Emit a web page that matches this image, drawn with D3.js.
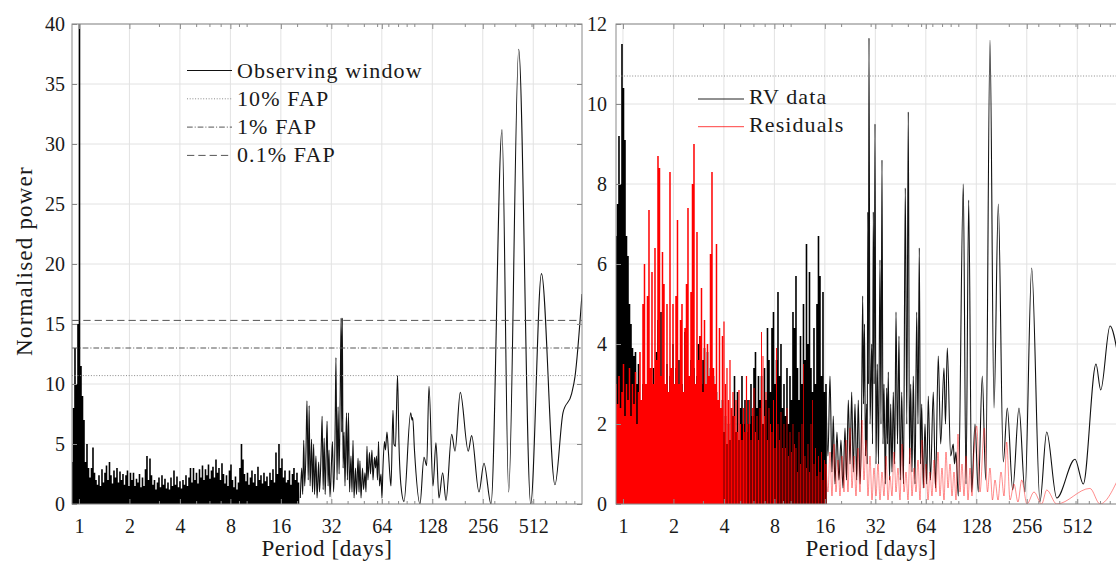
<!DOCTYPE html>
<html>
<head>
<meta charset="utf-8">
<script src="https://cdn.jsdelivr.net/npm/d3@7"></script>
<style>
  body { margin: 0; background: #fff; }
</style>
</head>
<body>
<svg id="chart" width="1116" height="564"></svg>
<script>
// ---- axes ----
const periodDomain = [1 / 1.1, 1000];
const periodTicks = [1, 2, 4, 8, 16, 32, 64, 128, 256, 512];
const periodMinorTicks = [3, 5, 6, 7, 9, 10, 20, 30, 40, 50, 60, 70, 80, 90, 100, 200, 300, 400, 500, 600, 700, 800, 900];
const windowPowerTicks = [0, 5, 10, 15, 20, 25, 30, 35, 40];
const rvPowerTicks = [0, 2, 4, 6, 8, 10, 12];

// ---- false-alarm levels ----
const fapLabels = ["10% FAP", "1% FAP", "0.1% FAP"];
const windowFapLevels = [10.7, 13.0, 15.3];
const rvFapLevel = 10.7;

// ---- observing window periodogram ----
// short periods: powers sampled on a log-uniform period grid
const windowDenseRange = [0.909, 20.38];
const windowDensePower = [
  3.5, 8, 13, 10, 15, 45, 11.5, 9,
  7, 3.5, 5.0, 3.0, 2.2, 3.0, 4.7, 2.6,
  2.0, 1.6, 2.4, 1.5, 2.9, 1.8, 2.6, 3.2,
  2.0, 3.5, 2.4, 1.7, 2.8, 2.2, 3.0, 1.8,
  2.7, 2.0, 2.5, 1.6, 2.4, 2.8, 1.5, 2.6,
  2.0, 2.6, 1.5, 2.1, 1.8, 2.5, 1.4, 2.2,
  1.5, 2.9, 4.0, 2.0, 3.8, 2.4, 1.6, 2.0,
  1.2, 1.8, 2.2, 1.4, 2.4, 1.6, 2.1, 1.3,
  1.8, 1.2, 2.2, 1.5, 2.8, 1.6, 2.3, 1.4,
  1.9, 1.3, 2.0, 1.6, 2.4, 1.5, 2.2, 3.0,
  1.8, 3.0, 2.0, 2.6, 1.7, 2.9, 2.2, 3.2,
  2.0, 2.9, 2.4, 3.3, 2.1, 2.8, 3.1, 2.2,
  3.7, 2.6, 3.0, 2.0, 3.4, 2.5, 1.7, 2.4,
  1.5, 2.8, 3.3, 2.0, 1.4, 2.3, 1.2, 1.8,
  3.0, 5.0, 3.7, 2.5, 1.9, 2.6, 1.6, 2.2,
  2.8, 1.8, 2.5, 1.5, 3.1, 2.0, 2.4, 1.7,
  2.6, 1.9, 2.3, 1.5, 2.6, 2.0, 2.9, 1.8,
  4.3, 2.5, 5.0, 3.0, 3.8, 2.2, 2.8, 1.8,
  2.0, 2.8, 1.6, 2.5, 3.0, 2.0, 2.6, 1.8
];
// longer periods: [period (days), power]
const windowCurve = [
  [20.9,0.5],[21.3,3.0],[21.6,0.8],[21.9,5.3],[22.2,1.5],[22.6,4.5],[22.9,8.6],[23.3,2.0],[23.6,8.2],[23.9,1.5],
  [24.4,5.4],[24.7,1.0],[25.1,5.0],[25.4,0.8],[25.9,4.0],[26.3,0.5],[26.9,3.5],[27.2,1.0],[27.8,4.2],[28.2,7.3],
  [28.6,1.2],[29.0,5.5],[29.4,0.8],[29.8,4.0],[30.2,6.9],[30.6,1.5],[31.0,4.5],[31.4,0.6],[32.1,3.6],[32.5,5.2],
  [33.0,1.0],[33.7,6.0],[34.1,12.2],[34.6,2.0],[35.1,8.1],[35.6,2.5],[36.1,8.5],[36.6,15.5],[36.9,6.0],[37.2,15.5],
  [37.6,3.0],[38.1,6.0],[38.6,1.5],[39.4,7.6],[39.9,2.0],[40.5,7.6],[41.1,1.0],[41.9,4.0],[42.5,1.0],[43.1,5.3],
  [43.7,0.5],[44.6,3.0],[45.2,0.8],[46.2,3.8],[46.8,1.0],[47.4,3.6],[48.1,0.5],[49.1,3.0],[49.8,1.2],[50.8,2.6],
  [51.5,1.0],[52.2,4.8],[52.9,2.0],[54.0,4.3],[54.8,2.5],[55.9,4.5],[56.7,2.0],[57.9,3.9],[58.7,3.0],[59.5,4.0],
  [60.3,2.0],[61.2,5.2],[62.0,1.5],[63.3,2.5],[64.1,0.5],[65.0,3.0],[66.4,5.2],[67.3,4.5],[68.7,6.0],[70.1,4.3],
  [71.6,2.3],[72.6,1.5],[74.6,7.8],[75.6,5.0],[77.2,4.8],[79.4,10.7],[81.0,5.0],[83.3,1.5],[86.8,0.2],[95.1,7.6],
  [96.9,7.0],[97.8,7.2],[100.2,4.5],[108.1,0.0],[114.2,3.9],[118.5,3.2],[122.3,9.8],[129.2,1.5],[134.6,5.1],[140.3,0.5],
  [147.6,2.6],[154.5,0.3],[167.1,5.8],[174.8,4.4],[188.0,9.3],[209.7,4.4],[219.7,5.7],[243.0,1.0],[260.2,3.4],[286.6,0.0],
  [333.3,31.2],[365.4,1.0],[419.3,37.9],[494.4,0.0],[573.1,19.2],[690.0,1.6],[770.0,7.6],[867.6,9.2],[907.9,10.6],[1000,17.5]
];

// ---- RV data periodogram ----
const rvDenseRange = [0.909, 16.25];
const rvDensePower = [
  6.7, 7.5, 9.2, 8.0, 11.5, 10.4, 9.1, 6.7,
  6.2, 5.0, 4.5, 3.9, 3.7, 3.8, 3.0, 3.5,
  2.5, 2.2, 3.0, 2.0, 2.8, 1.6, 3.0, 2.2,
  2.6, 3.4, 2.0, 3.8, 4.6, 2.5, 4.8, 2.4,
  3.0, 2.2, 3.5, 2.0, 3.2, 2.6, 4.0, 2.4,
  3.4, 2.0, 3.6, 2.4, 3.0, 2.8, 4.3, 2.6,
  3.0, 2.2, 3.6, 2.0, 3.4, 2.6, 3.2, 4.0,
  4.2, 3.0, 3.6, 3.9, 2.4, 3.8, 2.8, 3.4,
  2.6, 3.2, 2.0, 2.8, 1.8, 2.4, 1.5, 2.6,
  1.8, 2.2, 1.5, 2.0, 1.6, 2.4, 2.2, 3.2,
  1.8, 2.8, 1.6, 2.4, 3.2, 2.0, 2.6, 1.8,
  2.6, 2.0, 3.0, 2.2, 3.4, 3.8, 2.4, 3.2,
  2.6, 3.2, 2.0, 3.4, 2.6, 4.4, 3.6, 2.8,
  4.4, 4.8, 3.0, 3.6, 5.3, 3.2, 4.0, 2.4,
  3.0, 2.2, 3.4, 2.0, 3.2, 2.6, 4.8, 4.4,
  5.7, 3.4, 2.6, 4.2, 3.0, 5.0, 3.6, 6.5,
  4.0, 5.8, 3.4, 2.8, 4.4, 3.0, 5.0, 6.7,
  5.7, 3.2, 5.3, 2.8, 3.0
];
const rvCurve = [
  [16.25,2.8],[16.70,1.2],[17.17,3.2],[17.64,0.8],[17.96,2.2],[18.38,0.5],[18.89,1.8],[19.42,0.6],[19.96,1.6],[20.52,0.4],
  [21.10,1.9],[21.54,0.6],[22.08,2.6],[22.60,1.0],[23.13,2.8],[23.64,0.8],[24.20,2.5],[24.77,0.6],[25.32,2.6],[25.92,0.5],
  [26.46,2.0],[26.90,5.2],[27.20,2.5],[27.57,4.5],[27.95,1.2],[28.42,2.5],[28.62,1.0],[28.85,7.3],[29.09,3.0],[29.33,11.65],
  [29.74,2.0],[30.44,4.0],[30.78,1.5],[31.12,7.3],[31.50,3.0],[31.85,9.5],[32.29,1.0],[32.87,3.5],[33.42,1.0],[34.11,6.1],
  [34.58,2.0],[35.06,8.6],[35.55,1.5],[36.04,3.0],[36.69,0.5],[37.40,2.9],[37.81,1.5],[38.23,3.3],[38.87,0.6],[39.51,2.5],
  [40.22,0.8],[40.95,2.8],[41.75,1.0],[42.50,4.8],[43.38,1.5],[44.28,4.2],[45.08,0.6],[45.96,2.8],[47.10,0.5],[48.28,7.9],
  [49.29,2.0],[50.31,9.8],[51.15,1.0],[52.00,3.0],[52.94,0.8],[53.89,3.2],[55.17,0.5],[56.47,4.8],[57.49,2.0],[58.52,6.4],
  [59.49,1.0],[60.48,2.5],[61.83,0.4],[63.29,2.0],[64.78,0.5],[66.21,2.7],[68.24,0.6],[70.91,2.8],[73.08,0.4],[75.94,3.7],
  [78.49,1.5],[82.14,3.4],[83.85,2.0],[85.95,3.9],[90.05,1.2],[93.32,1.5],[94.87,1.0],[96.85,1.3],[99.96,0.2],[107.08,8.0],
  [111.12,0.5],[115.32,7.6],[120.16,0.3],[125.75,2.0],[131.56,0.3],[138.98,3.2],[145.63,0.6],[154.53,11.6],[163.24,2.4],[173.18,7.5],
  [185.45,1.05],[195.92,2.4],[211.02,0.35],[230.08,2.4],[249.82,0.3],[273.87,5.9],[306.87,0.06],[336.56,1.8],[386.15,0.15],[496.46,1.12],
  [556.3,0.5],[662.4,3.5],[706.6,2.85],[802.8,4.45],[896.1,3.7]
];

// ---- residuals periodogram ----
const residDensePower = [
  3.0, 2.5, 3.2, 2.4, 2.8, 3.5, 2.2, 3.0,
  2.6, 3.4, 2.2, 3.0, 2.5, 3.3, 2.0, 2.8,
  3.8, 2.6, 5.0, 6.0, 3.0, 5.2, 7.35, 3.4,
  5.8, 3.0, 6.4, 3.6, 8.7, 8.4, 3.2, 6.3,
  5.5, 3.0, 5.0, 2.8, 8.3, 3.4, 5.0, 3.0,
  5.2, 7.1, 3.0, 4.6, 5.0, 2.8, 4.4, 5.5,
  7.4, 3.2, 5.3, 8.0, 9.0, 3.0, 6.8, 3.6,
  4.2, 5.4, 2.8, 4.6, 3.0, 4.0, 3.2, 6.25,
  8.3, 3.4, 3.0, 6.5, 2.6, 4.4, 2.4, 4.2,
  4.56, 3.0, 3.4, 2.6, 3.6, 2.4, 2.8, 2.2,
  2.6, 1.8, 2.85, 2.0, 1.6, 2.4, 1.8, 3.2,
  2.0, 2.6, 1.6, 2.4, 2.9, 1.8, 2.2, 1.6,
  2.4, 4.3, 3.7, 2.2, 2.8, 1.6, 2.4, 2.0,
  1.8, 2.6, 1.4, 3.9, 2.0, 1.6, 2.3, 1.4,
  2.0, 1.4, 2.4, 1.2, 1.8, 1.3, 2.0, 1.5,
  1.4, 0.8, 1.8, 1.0, 2.0, 3.5, 1.2, 0.9,
  1.5, 0.8, 2.0, 2.6, 1.0, 1.4, 0.7, 1.2,
  0.8, 1.3, 0.6, 1.1, 1.0
];
const residMidRange = [16.25, 124.06];
const residMidPower = [
  1.0, 0.3, 1.3, 0.2, 1.5, 0.3, 1.1, 0.2, 1.2, 0.3,
  1.6, 0.3, 1.9, 0.4, 1.2, 0.2, 1.4, 0.3, 2.1, 0.6,
  1.6, 0.2, 1.2, 0.1, 0.9, 0.2, 1.0, 0.1, 0.8, 0.2,
  1.2, 0.1, 0.7, 0.2, 1.3, 0.3, 0.9, 0.1, 1.5, 0.3,
  0.8, 0.1, 1.4, 0.2, 0.9, 0.3, 1.1, 0.1, 1.6, 0.4,
  1.0, 0.1, 0.8, 0.2, 1.1, 0.3, 1.3, 0.2, 0.9, 0.1,
  1.3, 0.4, 1.0, 0.2, 0.8, 0.1, 1.75, 0.3, 1.0, 0.2,
  1.2, 0.1, 0.9, 0.2, 1.3
];
const residCurve = [
  [128.7,1.95],[134.7,0.3],[142.9,1.9],[149.3,0.3],[154.5,0.9],[159.9,0.1],[165.5,0.6],[172.5,0.1],[179.7,0.8],[187.3,0.2],
  [194.3,1.55],[203.3,0.1],[214.8,0.5],[226.9,0.05],[238.8,0.6],[256.8,0.0],[282.7,0.3],[314.1,0.0],[336.6,0.35],[386.2,0.0],
  [609.6,0.39],[699.7,0.0],[896.1,0.62]
];

// ---- layout ----
const PLOT_W = 510, TOP = 24, BOTTOM = 504;
const panelLefts = [72, 616];
const FONT = "Liberation Serif";
const INK = "#1a1a1a";
const svg = d3.select("#chart");

function txt(sel, size, spacing) {
  return sel.style("font-family", FONT).style("font-size", size + "px")
    .style("letter-spacing", (spacing || 0) + "px").attr("fill", INK);
}

function logGrid(range, n) {
  const a = Math.log(range[0]), b = Math.log(range[1]);
  return d3.range(n).map(i => Math.exp(a + (b - a) * i / (n - 1)));
}

function makePanel(idx, yMax, yTicks) {
  const left = panelLefts[idx];
  const x = d3.scaleLog().base(2).domain(periodDomain).range([left, left + PLOT_W]);
  const y = d3.scaleLinear().domain([0, yMax]).range([BOTTOM, TOP]);
  const g = svg.append("g");

  // grid
  g.append("g").selectAll("line").data(periodTicks).join("line")
    .attr("x1", d => x(d)).attr("x2", d => x(d)).attr("y1", TOP).attr("y2", BOTTOM)
    .attr("stroke", "#e2e2e2").attr("stroke-width", 1);
  g.append("g").selectAll("line").data(yTicks).join("line")
    .attr("x1", left).attr("x2", left + PLOT_W).attr("y1", d => y(d)).attr("y2", d => y(d))
    .attr("stroke", "#e2e2e2").attr("stroke-width", 1);

  const clipId = "clip" + idx;
  svg.append("clipPath").attr("id", clipId).append("rect")
    .attr("x", left).attr("y", TOP).attr("width", PLOT_W).attr("height", BOTTOM - TOP);
  const data = g.append("g").attr("clip-path", `url(#${clipId})`);
  return { g, data, x, y, left };
}

// one vertical stroke per sample, from zero power up to its value
function stems(p, periods, power, from, to) {
  let d = "";
  for (let i = from || 0; i < (to == null ? periods.length : to); i++) {
    d += `M${p.x(periods[i])},${p.y(0)}V${p.y(power[i])}`;
  }
  return d;
}

function curve(p) {
  return d3.line().x(d => p.x(d[0])).y(d => p.y(d[1])).curve(d3.curveMonotoneX);
}

function decorate(p, yTicks, labelPad) {
  const { g, x, y, left } = p;
  const fmt = d => String(d);
  g.append("g").attr("transform", `translate(0,${BOTTOM})`)
    .call(d3.axisBottom(x).tickValues(periodTicks).tickSizeInner(-5).tickSizeOuter(0).tickPadding(15).tickFormat(fmt));
  g.append("g").attr("transform", `translate(0,${BOTTOM})`)
    .call(d3.axisBottom(x).tickValues(periodMinorTicks).tickSizeInner(-3).tickSizeOuter(0).tickFormat(""));
  g.append("g").attr("transform", `translate(0,${TOP})`)
    .call(d3.axisTop(x).tickValues(periodTicks).tickSizeInner(-5).tickSizeOuter(0).tickFormat(""));
  g.append("g").attr("transform", `translate(0,${TOP})`)
    .call(d3.axisTop(x).tickValues(periodMinorTicks).tickSizeInner(-3).tickSizeOuter(0).tickFormat(""));
  g.append("g").attr("transform", `translate(${left},0)`)
    .call(d3.axisLeft(y).tickValues(yTicks).tickSizeInner(-5).tickSizeOuter(0).tickPadding(labelPad).tickFormat(fmt));
  g.append("g").attr("transform", `translate(${left + PLOT_W},0)`)
    .call(d3.axisRight(y).tickValues(yTicks).tickSizeInner(-5).tickSizeOuter(0).tickFormat(""));

  g.selectAll(".domain").remove();
  g.selectAll(".tick line").attr("stroke", "#8a8a8a");
  txt(g.selectAll(".tick text"), 20);

  g.append("rect").attr("x", left).attr("y", TOP).attr("width", PLOT_W).attr("height", BOTTOM - TOP)
    .attr("fill", "none").attr("stroke", "#8a8a8a").attr("stroke-width", 1);

  txt(g.append("text"), 23, 0.6).attr("x", left + PLOT_W / 2).attr("y", 556).attr("text-anchor", "middle")
    .text("Period [days]");
}

const fapStyles = [
  { dash: "1,1.7", color: "#8a8a8a" },
  { dash: "5.7,2,1,2", color: "#555" },
  { dash: "7.3,4", color: "#555" }
];

// ---- left panel: observing window ----
const L = makePanel(0, 40, windowPowerTicks);
L.data.append("path")
  .attr("d", stems(L, logGrid(windowDenseRange, windowDensePower.length), windowDensePower))
  .attr("stroke", "#000").attr("stroke-width", 1.6).attr("fill", "none");
L.data.append("path").datum(windowCurve).attr("d", curve(L))
  .attr("stroke", "#111").attr("stroke-width", 1.1).attr("fill", "none");
L.data.selectAll(".fap").data(windowFapLevels).join("line").attr("class", "fap")
  .attr("x1", L.left).attr("x2", L.left + PLOT_W)
  .attr("y1", d => L.y(d)).attr("y2", d => L.y(d))
  .attr("stroke", (d, i) => fapStyles[i].color).attr("stroke-dasharray", (d, i) => fapStyles[i].dash)
  .attr("stroke-width", 1);
decorate(L, windowPowerTicks, 7);

txt(svg.append("text"), 23, 1.2).attr("transform", "translate(32,261) rotate(-90)")
  .attr("text-anchor", "middle").text("Normalised power");

// left legend
const legL = svg.append("g");
const legLRows = [
  { label: "Observing window", dash: null, color: "#111" },
  { label: fapLabels[0], dash: fapStyles[0].dash, color: fapStyles[0].color },
  { label: fapLabels[1], dash: fapStyles[1].dash, color: fapStyles[1].color },
  { label: fapLabels[2], dash: fapStyles[2].dash, color: fapStyles[2].color }
];
legLRows.forEach((r, i) => {
  const base = 77.5 + i * 28.3;
  legL.append("line").attr("x1", 187).attr("x2", 232).attr("y1", base - 7).attr("y2", base - 7)
    .attr("stroke", r.color).attr("stroke-width", 1).attr("stroke-dasharray", r.dash);
  txt(legL.append("text"), 22, 1.1).attr("x", 237).attr("y", base).text(r.label);
});

// ---- right panel: RV data and residuals ----
const R = makePanel(1, 12, rvPowerTicks);
const rvGrid = logGrid(rvDenseRange, rvDensePower.length);
R.data.append("path").attr("d", stems(R, rvGrid, rvDensePower))
  .attr("stroke", "#000").attr("stroke-width", 1.6).attr("fill", "none");
R.data.append("path").datum(rvCurve).attr("d", curve(R))
  .attr("stroke", "#111").attr("stroke-width", 1.1).attr("fill", "none");
// residual strokes thin out towards longer periods so the RV trace shows through
const residBands = [[0, 72, 1.5], [72, 88, 1.2], [88, 108, 0.95], [108, null, 0.75]];
residBands.forEach(([from, to, w]) => {
  R.data.append("path").attr("d", stems(R, rvGrid, residDensePower, from, to))
    .attr("stroke", "#ff0000").attr("stroke-width", w).attr("fill", "none");
});
const residMid = logGrid(residMidRange, residMidPower.length).map((d, i) => [d, residMidPower[i]]);
R.data.append("path").datum(residMid.concat(residCurve)).attr("d", curve(R))
  .attr("stroke", "#ff0000").attr("stroke-opacity", 0.45).attr("stroke-width", 1).attr("fill", "none");
R.data.append("line").attr("x1", R.left).attr("x2", R.left + PLOT_W)
  .attr("y1", R.y(rvFapLevel)).attr("y2", R.y(rvFapLevel))
  .attr("stroke", fapStyles[0].color).attr("stroke-dasharray", fapStyles[0].dash).attr("stroke-width", 1);
decorate(R, rvPowerTicks, 9);

// right legend
const legR = svg.append("g");
[{ label: "RV data", color: "#222", op: 1 }, { label: "Residuals", color: "#ff0000", op: 0.75 }].forEach((r, i) => {
  const base = 104 + i * 27.7;
  legR.append("line").attr("x1", 698).attr("x2", 744).attr("y1", base - 5).attr("y2", base - 5)
    .attr("stroke", r.color).attr("stroke-opacity", r.op).attr("stroke-width", 1);
  txt(legR.append("text"), 22, 1.1).attr("x", 749).attr("y", base).text(r.label);
});
</script>
</body>
</html>
